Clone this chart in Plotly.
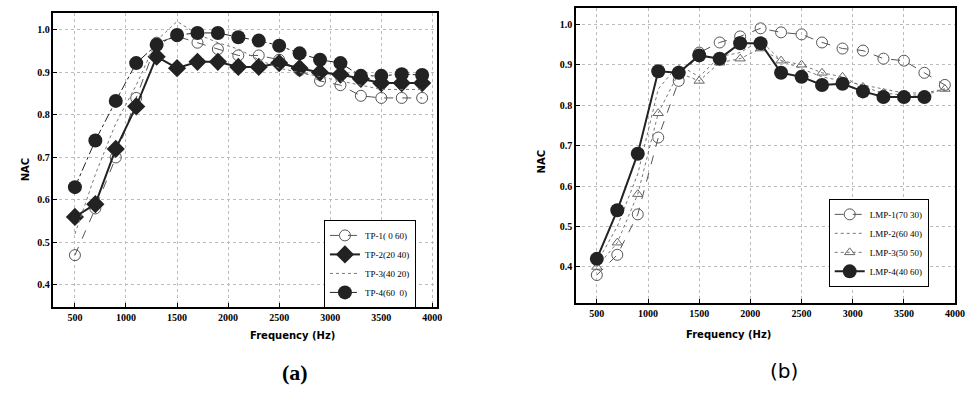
import plotly.graph_objects as go

freq = [500, 700, 900, 1100, 1300, 1500, 1700, 1900, 2100, 2300, 2500, 2700, 2900, 3100, 3300, 3500, 3700, 3900]

tp1 = [0.47, 0.58, 0.70, 0.84, 0.97, 0.985, 0.97, 0.955, 0.94, 0.94, 0.93, 0.905, 0.88, 0.87, 0.845, 0.84, 0.84, 0.84]
tp2 = [0.56, 0.59, 0.72, 0.82, 0.937, 0.91, 0.925, 0.925, 0.913, 0.913, 0.922, 0.91, 0.90, 0.895, 0.885, 0.875, 0.875, 0.875]
tp3 = [0.52, 0.66, 0.78, 0.87, 0.975, 1.02, 0.99, 0.97, 0.955, 0.93, 0.91, 0.90, 0.89, 0.88, 0.87, 0.86, 0.86, 0.86]
tp4 = [0.63, 0.74, 0.833, 0.922, 0.965, 0.988, 0.993, 0.993, 0.983, 0.975, 0.963, 0.945, 0.93, 0.922, 0.892, 0.892, 0.896, 0.894]

lmp1 = [0.38, 0.43, 0.53, 0.72, 0.86, 0.93, 0.955, 0.97, 0.99, 0.98, 0.975, 0.955, 0.94, 0.935, 0.915, 0.91, 0.88, 0.85]
lmp2 = [0.41, 0.50, 0.63, 0.84, 0.90, 0.87, 0.92, 0.93, 0.96, 0.91, 0.89, 0.87, 0.86, 0.85, 0.84, 0.83, 0.83, 0.84]
lmp3 = [0.40, 0.46, 0.58, 0.78, 0.88, 0.86, 0.905, 0.915, 0.94, 0.91, 0.90, 0.88, 0.87, 0.845, 0.83, 0.825, 0.825, 0.84]
lmp4 = [0.42, 0.54, 0.68, 0.884, 0.88, 0.923, 0.915, 0.953, 0.953, 0.88, 0.87, 0.85, 0.853, 0.834, 0.82, 0.82, 0.82, None]

names_a = ["TP-1(\u00a00 60)", "TP-2(20 40)", "TP-3(40 20)", "TP-4(60\u00a0\u00a00)"]
names_b = ["LMP-1(70 30)", "LMP-2(60 40)", "LMP-3(50 50)", "LMP-4(40 60)"]

xticks = [500, 1000, 1500, 2000, 2500, 3000, 3500, 4000]
yticks = [0.4, 0.5, 0.6, 0.7, 0.8, 0.9, 1.0]
yticklabels = ["0.4", "0.5", "0.6", "0.7", "0.8", "0.9", "1.0"]

dark = "#222222"
fig = go.Figure()

# (a)
fig.add_trace(go.Scatter(x=freq, y=tp1, name=names_a[0], mode="lines+markers",
    line=dict(color="#555", width=1, dash="dash"),
    marker=dict(symbol="circle-open", size=11, color="#555", line=dict(width=1)),
    xaxis="x", yaxis="y", legend="legend"))
fig.add_trace(go.Scatter(x=freq, y=tp2, name=names_a[1], mode="lines+markers",
    line=dict(color=dark, width=2),
    marker=dict(symbol="diamond", size=14, color=dark),
    xaxis="x", yaxis="y", legend="legend"))
fig.add_trace(go.Scatter(x=freq, y=tp3, name=names_a[2], mode="lines",
    line=dict(color="#777", width=1, dash="dot"),
    xaxis="x", yaxis="y", legend="legend"))
fig.add_trace(go.Scatter(x=freq, y=tp4, name=names_a[3], mode="lines+markers",
    line=dict(color=dark, width=1, dash="dashdot"),
    marker=dict(symbol="circle", size=14, color=dark),
    xaxis="x", yaxis="y", legend="legend"))

# (b)
fig.add_trace(go.Scatter(x=freq, y=lmp1, name=names_b[0], mode="lines+markers",
    line=dict(color="#555", width=1, dash="dash"),
    marker=dict(symbol="circle-open", size=11, color="#555", line=dict(width=1)),
    xaxis="x2", yaxis="y2", legend="legend2"))
fig.add_trace(go.Scatter(x=freq, y=lmp2, name=names_b[1], mode="lines",
    line=dict(color="#777", width=1, dash="dot"),
    xaxis="x2", yaxis="y2", legend="legend2"))
fig.add_trace(go.Scatter(x=freq, y=lmp3, name=names_b[2], mode="lines+markers",
    line=dict(color="#777", width=1, dash="dot"),
    marker=dict(symbol="triangle-up-open", size=9, color="#666", line=dict(width=1)),
    xaxis="x2", yaxis="y2", legend="legend2"))
fig.add_trace(go.Scatter(x=freq, y=lmp4, name=names_b[3], mode="lines+markers",
    line=dict(color=dark, width=2),
    marker=dict(symbol="circle", size=14, color=dark),
    xaxis="x2", yaxis="y2", legend="legend2"))

tickfont = dict(family="Liberation Serif", size=10, color="black", weight="bold")
common_x = dict(range=[290, 4050], tickvals=xticks, ticks="inside", ticklen=4, tickcolor="black",
                showline=True, linecolor="black", linewidth=1.5, mirror=True,
                showgrid=True, gridcolor="#bbbbbb", griddash="dot", gridwidth=1,
                zeroline=False, tickfont=tickfont)
common_y = dict(tickvals=yticks, ticktext=yticklabels, ticks="inside", ticklen=4, tickcolor="black",
                showline=True, linecolor="black", linewidth=1.5, mirror=True,
                showgrid=True, gridcolor="#bbbbbb", griddash="dot", gridwidth=1,
                zeroline=False, tickfont=tickfont)

legfont = dict(family="Liberation Serif", size=9, color="black")
fig.update_layout(
    width=977, height=405, margin=dict(l=0, r=0, t=0, b=0),
    paper_bgcolor="white", plot_bgcolor="white",
    xaxis=dict(domain=[0.0553, 0.4524], anchor="y", **common_x),
    yaxis=dict(domain=[0.242, 0.968], anchor="x", range=[0.348, 1.04], **common_y),
    xaxis2=dict(domain=[0.5957, 0.9877], anchor="y2", **{**common_x, "range": [297, 4000]}),
    yaxis2=dict(domain=[0.252, 0.980], anchor="x2", range=[0.311, 1.04], **common_y),
    legend=dict(x=0.335, y=0.457, xanchor="left", yanchor="top", bgcolor="white",
                bordercolor="black", borderwidth=1, font=legfont, tracegroupgap=0),
    legend2=dict(x=0.857, y=0.509, xanchor="left", yanchor="top", bgcolor="white",
                 bordercolor="black", borderwidth=1, font=legfont, tracegroupgap=0),
    showlegend=True,
)

titlefont = dict(family="DejaVu Sans", size=10, color="black", weight="bold")
fig.add_annotation(x=251 / 977, y=1 - 343 / 405, xref="paper", yref="paper", text="Frequency (Hz)",
                   showarrow=False, font=titlefont)
fig.add_annotation(x=781 / 977, y=1 - 342 / 405, xref="paper", yref="paper", text="Frequency (Hz)",
                   showarrow=False, font=titlefont)
fig.add_annotation(x=18 / 977, y=1 - 170 / 405, xref="paper", yref="paper", text="NAC", textangle=-90,
                   showarrow=False, font=titlefont)
fig.add_annotation(x=547 / 977, y=1 - 162 / 405, xref="paper", yref="paper", text="NAC", textangle=-90,
                   showarrow=False, font=titlefont)
fig.add_annotation(x=283 / 977, y=1 - 387 / 405, xref="paper", yref="paper", text="(a)",
                   showarrow=False, font=dict(family="Liberation Serif", size=22, color="black", weight="bold"))
fig.add_annotation(x=808 / 977, y=1 - 385 / 405, xref="paper", yref="paper", text="(b)",
                   showarrow=False, font=dict(family="DejaVu Sans", size=20, color="black"))

fig.write_html("out.html")
